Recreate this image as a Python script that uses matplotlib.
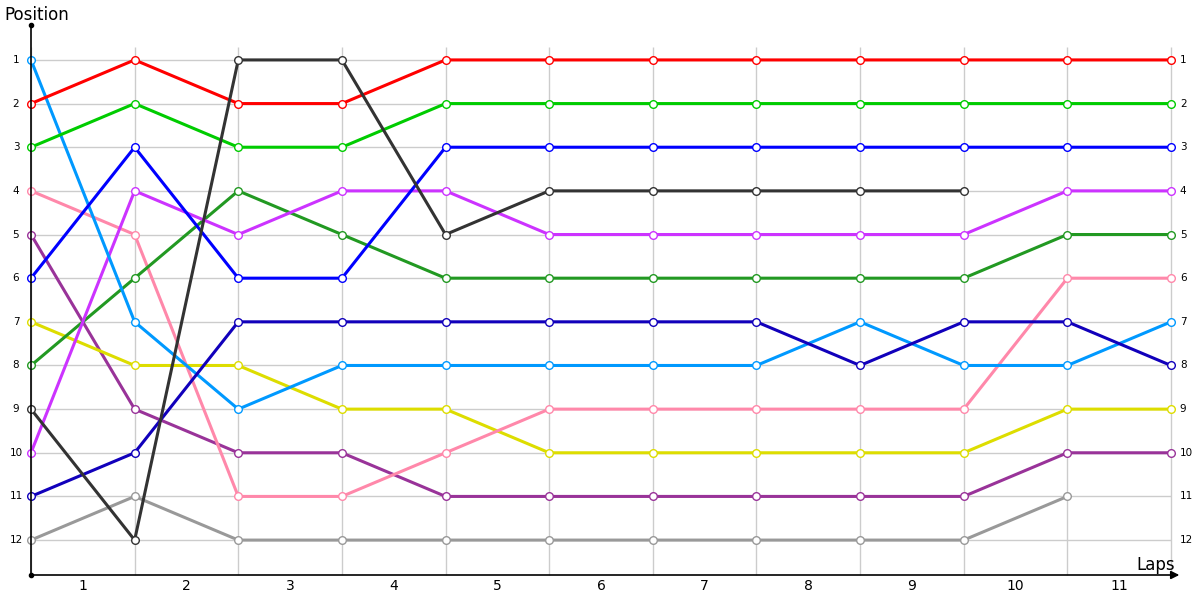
import numpy as np
import matplotlib.pyplot as plt

laps = np.arange(12)  # lap boundaries 0..11
lap_labels = [str(i) for i in range(1, 12)]
positions = list(range(1, 13))

red = [2, 1, 2, 2, 1, 1, 1, 1, 1, 1, 1, 1]
green = [3, 2, 3, 3, 2, 2, 2, 2, 2, 2, 2, 2]
blue = [6, 3, 6, 6, 3, 3, 3, 3, 3, 3, 3, 3]
light_blue = [1, 7, 9, 8, 8, 8, 8, 8, 7, 8, 8, 7]
pink = [4, 5, 11, 11, 10, 9, 9, 9, 9, 9, 6, 6]
violet = [10, 4, 5, 4, 4, 5, 5, 5, 5, 5, 4, 4]
dark_green = [8, 6, 4, 5, 6, 6, 6, 6, 6, 6, 5, 5]
purple = [5, 9, 10, 10, 11, 11, 11, 11, 11, 11, 10, 10]
yellow = [7, 8, 8, 9, 9, 10, 10, 10, 10, 10, 9, 9]
navy = [11, 10, 7, 7, 7, 7, 7, 7, 8, 7, 7, 8]
black = [9, 12, 1, 1, 5, 4, 4, 4, 4, 4]
grey = [12, 11, 12, 12, 12, 12, 12, 12, 12, 12, 11]

series = [
    (grey, '#999999'),
    (purple, '#993399'),
    (yellow, '#dddd00'),
    (pink, '#ff88aa'),
    (dark_green, '#229922'),
    (violet, '#cc33ff'),
    (light_blue, '#0099ff'),
    (navy, '#1100bb'),
    (blue, '#0000ff'),
    (green, '#00cc00'),
    (red, '#ff0000'),
    (black, '#333333'),
]

fig = plt.figure(figsize=(12, 6), dpi=100)
ax = fig.add_axes([31 / 1200, 25 / 600, 1140 / 1200, 550 / 600])
ax.set_xlim(0, 11)
ax.set_ylim(12.8, 0.2)
ax.axis('off')

# grid
ax.hlines(positions, 0, 11, color='#cccccc', lw=1, zorder=1)
ax.vlines(laps, 0.7, 12.8, color='#cccccc', lw=1, zorder=1, clip_on=False)

for vals, c in series:
    ax.plot(laps[:len(vals)], vals, color=c, lw=2.2, marker='o', ms=5.5,
            mfc='white', mec=c, mew=1, clip_on=False, zorder=3)

# axes lines
ax.plot([0, 0], [0.2, 12.8], color='black', lw=1.2, clip_on=False, zorder=4)
ax.plot([0], [0.2], 'o', color='black', ms=3, clip_on=False, zorder=4)
ax.plot([0], [12.8], 'o', color='black', ms=3, clip_on=False, zorder=4)
ax.annotate('', xy=(11.08, 12.8), xytext=(0, 12.8),
            arrowprops=dict(arrowstyle='-|>', color='black', lw=1.2,
                            mutation_scale=12, shrinkA=0, shrinkB=0),
            annotation_clip=False, zorder=4)

for p in positions:
    ax.text(-0.145, p, str(p), ha='center', va='center', fontsize=7.5)
    ax.text(0.085 + 11, p, str(p), ha='left', va='center', fontsize=7.5)
for i, lab in enumerate(lap_labels):
    ax.text(i + 0.5, 13.05, lab, ha='center', va='center', fontsize=10)

fig.text(4 / 1200, 1 - 15 / 600, 'Position', ha='left', va='center', fontsize=12)
fig.text(1175 / 1200, 1 - 565 / 600, 'Laps', ha='right', va='center', fontsize=12)

fig.savefig('out.png', dpi=100)
